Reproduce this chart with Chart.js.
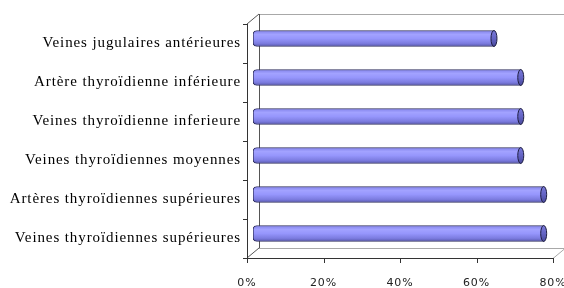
<!DOCTYPE html>
<html>
<head>
<meta charset="utf-8">
<script src="https://cdn.jsdelivr.net/npm/chart.js@4.4.0/dist/chart.umd.min.js"></script>
<style>
  html, body { margin: 0; padding: 0; background: #fff; }
</style>
</head>
<body>
<canvas id="chart" width="564" height="288"></canvas>
<script>
// data
const categories = [
  "Veines jugulaires antérieures",
  "Artère thyroïdienne inférieure",
  "Veines thyroïdienne inferieure",
  "Veines thyroïdiennes moyennes",
  "Artères thyroïdiennes supérieures",
  "Veines thyroïdiennes supérieures"
];
const percentages = [63, 70, 70, 70, 76, 76];
const tickValues = [0, 20, 40, 60, 80];

// 3d look
const DX = 12, DY = 10;
const BAR_H = 16;

function barFill(c) {
  const chart = c.chart;
  const ys = chart.scales.y;
  if (!ys || !chart.chartArea) return "#9999ff";
  const yc = ys.getPixelForValue(c.dataIndex);
  const g = chart.ctx.createLinearGradient(0, yc - BAR_H / 2, 0, yc + BAR_H / 2);
  g.addColorStop(0, "#8282ea");
  g.addColorStop(0.25, "#a2a2ff");
  g.addColorStop(0.5, "#9696fc");
  g.addColorStop(0.8, "#7c7ce0");
  g.addColorStop(1, "#5858ae");
  return g;
}

const frame3d = {
  id: "frame3d",
  beforeDraw(chart) {
    // the old picture has wide letter spacing
    chart.ctx.letterSpacing = "0.9px";
  },
  beforeDatasetsDraw(chart) {
    const { ctx, chartArea: a } = chart;
    const xs = chart.scales.x;
    ctx.save();
    ctx.lineWidth = 1;
    // back wall + floor
    ctx.strokeStyle = "#a8a8a8";
    ctx.beginPath();
    ctx.moveTo(a.left + DX, a.top - DY + 0.5);
    ctx.lineTo(a.right + DX, a.top - DY + 0.5);
    ctx.moveTo(a.right + DX - 0.5, a.top - DY);
    ctx.lineTo(a.right + DX - 0.5, a.bottom - DY);
    ctx.moveTo(a.left + DX, a.bottom - DY + 0.5);
    ctx.lineTo(a.right + DX, a.bottom - DY + 0.5);
    ctx.moveTo(a.right, a.bottom + 0.5);
    ctx.lineTo(a.right + DX, a.bottom - DY + 0.5);
    ctx.stroke();
    ctx.strokeStyle = "#555";
    ctx.beginPath();
    ctx.moveTo(a.left + DX + 0.5, a.top - DY);
    ctx.lineTo(a.left + DX + 0.5, a.bottom - DY);
    ctx.moveTo(a.left, a.top);
    ctx.lineTo(a.left + DX, a.top - DY);
    ctx.moveTo(a.left, a.bottom);
    ctx.lineTo(a.left + DX, a.bottom - DY);
    ctx.stroke();
    // front axes
    ctx.strokeStyle = "#333";
    ctx.beginPath();
    ctx.moveTo(a.left + 0.5, a.top);
    ctx.lineTo(a.left + 0.5, a.bottom);
    ctx.moveTo(a.left, a.bottom + 0.5);
    ctx.lineTo(a.right, a.bottom + 0.5);
    const band = (a.bottom - a.top) / categories.length;
    for (let k = 0; k <= categories.length; k++) {
      const y = Math.round(a.top + k * band) + 0.5;
      ctx.moveTo(a.left - 4, y);
      ctx.lineTo(a.left, y);
    }
    tickValues.forEach(v => {
      const x = Math.round(xs.getPixelForValue(v)) + 0.5;
      ctx.moveTo(x, a.bottom);
      ctx.lineTo(x, a.bottom + 5);
    });
    ctx.stroke();
    ctx.restore();
    // bars sit half way into the depth
    ctx.save();
    ctx.translate(DX / 2, -DY / 2);
  },
  afterDatasetsDraw(chart) {
    const ctx = chart.ctx;
    const meta = chart.getDatasetMeta(0);
    meta.data.forEach(el => {
      const h = el.height;
      const g = ctx.createLinearGradient(0, el.y - h / 2, 0, el.y + h / 2);
      g.addColorStop(0, "#7a7ada");
      g.addColorStop(0.5, "#6464c4");
      g.addColorStop(1, "#4a4a9c");
      ctx.beginPath();
      ctx.ellipse(el.x, el.y, 3, h / 2, 0, 0, Math.PI * 2);
      ctx.fillStyle = g;
      ctx.fill();
      ctx.lineWidth = 1;
      ctx.strokeStyle = "#1e1e40";
      ctx.stroke();
    });
    ctx.restore();
  }
};

new Chart(document.getElementById("chart"), {
  type: "bar",
  data: {
    labels: categories,
    datasets: [{
      data: percentages,
      backgroundColor: barFill,
      borderColor: "#30305e",
      borderWidth: 1,
      borderSkipped: false,
      borderRadius: { topLeft: 4, bottomLeft: 4, topRight: 0, bottomRight: 0 },
      barThickness: BAR_H
    }]
  },
  options: {
    indexAxis: "y",
    responsive: false,
    animation: false,
    layout: { padding: { top: 24, right: 11, left: 0, bottom: 0 } },
    scales: {
      x: {
        min: 0,
        max: 80,
        grid: { display: false, drawTicks: false },
        border: { display: false },
        afterBuildTicks(scale) {
          scale.ticks = tickValues.map(v => ({ value: v }));
        },
        ticks: {
          padding: 19,
          color: "#222",
          font: { family: "DejaVu Sans", size: 11 },
          callback: v => v + "%"
        },
        afterFit(scale) {
          scale.height = 30;
          scale.paddingLeft = 0;
          scale.paddingRight = 0;
        }
      },
      y: {
        grid: { display: false, drawTicks: false },
        border: { display: false },
        ticks: {
          padding: 6,
          color: "#000",
          font: { family: "Liberation Serif", size: 15 }
        },
        afterFit(scale) {
          scale.width = 247;
        }
      }
    },
    plugins: {
      legend: { display: false },
      tooltip: { enabled: false }
    }
  },
  plugins: [frame3d]
});
</script>
</body>
</html>
